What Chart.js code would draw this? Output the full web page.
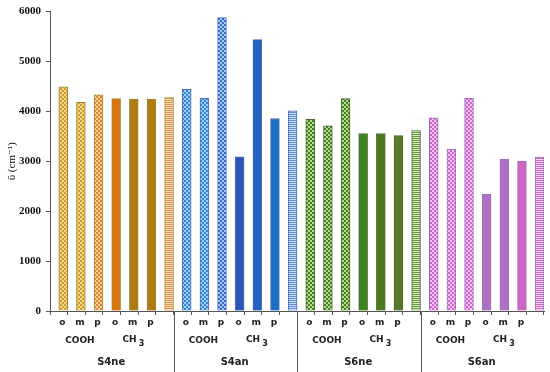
<!DOCTYPE html>
<html>
<head>
<meta charset="utf-8">
<script src="https://cdn.jsdelivr.net/npm/chart.js@4.4.0/dist/chart.umd.min.js"></script>
<style>
  html, body { margin: 0; padding: 0; background: #fff; }
  #wrap { width: 550px; height: 372px; position: relative; }
</style>
</head>
<body>
<div id="wrap"><canvas id="chart"></canvas></div>
<script>
// samples and the sub-labels under each bar
const groups = ['S4ne', 'S4an', 'S6ne', 'S6an'];
const positions = ['o', 'm', 'p', 'o', 'm', 'p', ''];
const substituents = ['COOH', 'CH'];

// wavenumber values (cm-1), one array per sample
const s4ne = [4490, 4180, 4330, 4255, 4245, 4245, 4275];
const s4an = [4443, 4263, 5880, 3090, 5437, 3857, 4010];
const s6ne = [3843, 3710, 4257, 3557, 3557, 3517, 3617];
const s6an = [3870, 3243, 4260, 2343, 3043, 3003, 3083];

const yTicks = [0, 1000, 2000, 3000, 4000, 5000, 6000];

// colours: [checker dark, checker light, solid o, solid m, solid p, stripe dark, stripe light, border]
const palette = [
  ['#d49a30', '#f6d88a', '#d9730c', '#b07c12', '#b07c12', '#e8944a', '#fbdcb8', '#9a8a30'],
  ['#2f86dc', '#a6d2f8', '#2858b8', '#2062c0', '#1a70c8', '#5a8edc', '#cfe0fa', '#5468c0'],
  ['#3f8224', '#b8dc98', '#3a8424', '#4a7a20', '#587a2a', '#62943e', '#d8ecc6', '#4a6a28'],
  ['#cc62cc', '#f6c6f4', '#b070c4', '#b070c8', '#d064c4', '#cc66c4', '#f8daf6', '#9a70b8']
];
const pAccent = ['#ec8040', '#3468cc', '#3f8224', '#cc62cc']; // p-checker accents

function checker(c1, c2, size) {
  const cv = document.createElement('canvas');
  cv.width = size * 2; cv.height = size * 2;
  const c = cv.getContext('2d');
  c.fillStyle = c2; c.fillRect(0, 0, size * 2, size * 2);
  c.fillStyle = c1;
  c.fillRect(0, 0, size, size);
  c.fillRect(size, size, size, size);
  return c.createPattern(cv, 'repeat');
}

function stripes(c1, c2) {
  const cv = document.createElement('canvas');
  cv.width = 2; cv.height = 2;
  const c = cv.getContext('2d');
  c.fillStyle = c2; c.fillRect(0, 0, 2, 2);
  c.fillStyle = c1; c.fillRect(0, 0, 2, 1);
  return c.createPattern(cv, 'repeat');
}

const labels = [];
const values = [];
const fills = [];
const borders = [];
[s4ne, s4an, s6ne, s6an].forEach((arr, g) => {
  const p = palette[g];
  arr.forEach((v, i) => {
    labels.push(groups[g] + ' ' + i);
    values.push(v);
    if (i < 3) {
      const dark = (i === 2) ? pAccent[g] : p[0];
      fills.push(checker(dark, p[1], 2));
    } else if (i < 6) {
      fills.push(p[2 + i - 3]);
    } else {
      fills.push(stripes(p[5], p[6]));
    }
    borders.push(p[7]);
  });
});

// draws the category labels and the group separators under the axis
const axisLabels = {
  id: 'axisLabels',
  afterDraw(chart) {
    const ctx = chart.ctx;
    const area = chart.chartArea;
    const meta = chart.getDatasetMeta(1);
    const slot = (area.right - area.left) / labels.length;
    const base = area.bottom;
    ctx.save();
    ctx.fillStyle = '#222';
    ctx.textAlign = 'center';
    ctx.textBaseline = 'middle';
    ctx.font = 'bold 9px "DejaVu Sans"';
    labels.forEach((l, i) => {
      const k = i % 7;
      const x = meta.data[i].x - 1;
      if (positions[k]) ctx.fillText(positions[k], x, base + 12);
      if (k === 1) ctx.fillText(substituents[0], x, base + 30);
      if (k === 4) {
        const w = ctx.measureText(substituents[1] + ' ').width;
        ctx.font = 'bold 8px "DejaVu Sans"';
        const w3 = ctx.measureText('3').width;
        ctx.font = 'bold 9px "DejaVu Sans"';
        const left = x + 1 - (w + w3) / 2;
        ctx.textAlign = 'left';
        ctx.fillText(substituents[1] + ' ', left, base + 29);
        ctx.font = 'bold 8px "DejaVu Sans"';
        ctx.fillText('3', left + w - 1, base + 33);
        ctx.font = 'bold 9px "DejaVu Sans"';
        ctx.textAlign = 'center';
      }
      if (k === 3) {
        ctx.font = 'bold 10px "DejaVu Sans"';
        ctx.fillText(groups[Math.floor(i / 7)], x - 4, base + 51);
        ctx.font = 'bold 9px "DejaVu Sans"';
      }
    });
    ctx.strokeStyle = '#555';
    ctx.lineWidth = 1;
    for (let g = 1; g < groups.length; g++) {
      const xb = Math.round(area.left + g * 7 * slot) + 0.5;
      ctx.beginPath();
      ctx.moveTo(xb, base);
      ctx.lineTo(xb, chart.height);
      ctx.stroke();
    }
    ctx.restore();
  }
};

new Chart(document.getElementById('chart'), {
  type: 'bar',
  data: {
    labels: labels,
    datasets: [
      { data: labels.map(() => null) }, // empty slot, as in the original clustered layout
      {
        data: values,
        backgroundColor: fills,
        borderColor: borders,
        borderWidth: 1,
        borderSkipped: 'bottom'
      }
    ]
  },
  options: {
    responsive: true,
    maintainAspectRatio: false,
    animation: false,
    categoryPercentage: 1.0,
    barPercentage: 1.0,
    layout: { padding: { top: 10, right: 6, left: 0, bottom: 0 } },
    plugins: { legend: { display: false }, tooltip: { enabled: false } },
    scales: {
      x: {
        grid: { offset: true, drawOnChartArea: false, drawTicks: true, tickLength: 4, color: '#555' },
        border: { display: true, color: '#555' },
        ticks: { display: false },
        afterFit(scale) { scale.height = 61; }
      },
      y: {
        min: 0,
        max: 6000,
        afterBuildTicks(scale) { scale.ticks = yTicks.map(v => ({ value: v })); },
        grid: { drawOnChartArea: false, drawTicks: true, tickLength: 4, color: '#555' },
        border: { display: true, color: '#555' },
        ticks: {
          padding: 5,
          color: '#111',
          font: { family: '"Liberation Serif"', weight: 'bold', size: 11 },
          callback: v => String(v)
        },
        title: {
          display: true,
          text: 'ῡ (cm⁻¹)',
          color: '#111',
          padding: { top: 6, bottom: 0 },
          font: { family: '"Liberation Serif", "DejaVu Serif"', size: 11 }
        },
        afterFit(scale) { scale.width = 50; }
      }
    }
  },
  plugins: [axisLabels]
});
</script>
</body>
</html>
